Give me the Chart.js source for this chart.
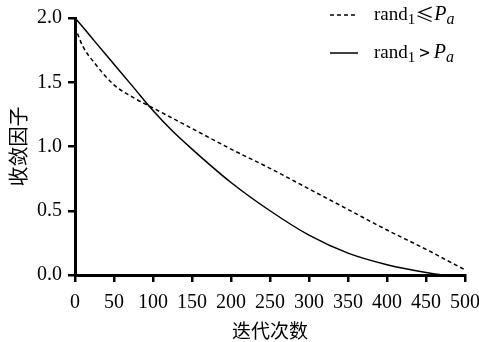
<!DOCTYPE html>
<html>
<head>
<meta charset="utf-8">
<script src="https://cdn.jsdelivr.net/npm/chart.js@4.4.0/dist/chart.umd.min.js"></script>
<style>
  html, body { margin: 0; padding: 0; background: #fff; }
  #wrap { width: 479px; height: 342px; position: relative; }
</style>
</head>
<body>
<div id="wrap"><canvas id="convChart"></canvas></div>
<script>
// Values
const iterations = [0, 10, 25, 50, 75, 100, 125, 150, 200, 250, 300, 350, 400, 450, 475, 500];
const dashedValues = [1.93, 1.78, 1.65, 1.48, 1.38, 1.30, 1.22, 1.14, 0.98, 0.83, 0.67, 0.51, 0.35, 0.20, 0.12, 0.04];
const solidValues = [2.00, 1.93, 1.82, 1.64, 1.46, 1.28, 1.12, 0.98, 0.72, 0.50, 0.31, 0.17, 0.08, 0.02, 0.00, 0.00];
const xTicks = [0, 50, 100, 150, 200, 250, 300, 350, 400, 450, 500];
const yTicks = [0.0, 0.5, 1.0, 1.5, 2.0];

const serif = "'Liberation Serif', 'DejaVu Serif', serif";
const cjk = "'Noto Sans CJK SC', sans-serif";

function toPoints(vals) {
  return iterations.map((x, i) => ({ x: x, y: vals[i] }));
}

// legend drawn by hand so the subscript and italic P_a come out right
const legendPlugin = {
  id: 'customLegend',
  afterDraw(chart) {
    const c = chart.ctx;
    const rows = [
      { dash: [4, 3], op: '\u2264', gap: 0, y: 15 },
      { dash: [], op: '>', gap: 4, y: 53 }
    ];
    c.save();
    rows.forEach(r => {
      c.strokeStyle = '#000';
      c.lineWidth = 1.5;
      c.setLineDash(r.dash);
      c.beginPath();
      c.moveTo(330, r.y);
      c.lineTo(358, r.y);
      c.stroke();
      c.setLineDash([]);
      c.fillStyle = '#000';
      c.textBaseline = 'middle';
      let x = 374;
      c.font = '19px ' + serif;
      c.fillText('rand', x, r.y);
      x += c.measureText('rand').width;
      c.font = '15px ' + serif;
      c.fillText('1', x, r.y + 5);
      x += c.measureText('1').width + r.gap;
      c.font = '19px ' + cjk;
      c.fillText(r.op, x, r.y);
      x += c.measureText(r.op).width + r.gap;
      c.font = 'italic 20px ' + serif;
      c.fillText('P', x, r.y);
      x += c.measureText('P').width;
      c.font = 'italic 16px ' + serif;
      c.fillText('a', x, r.y + 5);
    });
    c.restore();
  }
};

const ctx = document.getElementById('convChart').getContext('2d');
const convChart = new Chart(ctx, {
  type: 'line',
  data: {
    datasets: [{
      label: 'rand1<=Pa',
      data: toPoints(dashedValues),
      borderColor: '#000',
      borderWidth: 1.5,
      borderDash: [4, 3],
      pointRadius: 0,
      cubicInterpolationMode: 'monotone',
      fill: false
    }, {
      label: 'rand1>Pa',
      data: toPoints(solidValues),
      borderColor: '#000',
      borderWidth: 1.5,
      pointRadius: 0,
      cubicInterpolationMode: 'monotone',
      fill: false
    }]
  },
  options: {
    responsive: true,
    maintainAspectRatio: false,
    animation: false,
    layout: { padding: { top: 16, right: 14, left: 6, bottom: 0 } },
    plugins: {
      legend: { display: false },
      tooltip: { enabled: false }
    },
    scales: {
      x: {
        type: 'linear',
        min: 0,
        max: 500,
        afterBuildTicks: s => { s.ticks = xTicks.map(v => ({ value: v })); },
        afterFit: s => { s.height = 67; s.paddingRight = 8; },
        border: { display: true, color: '#000', width: 3 },
        grid: { display: true, drawOnChartArea: false, drawTicks: true, tickLength: 7, color: '#000', lineWidth: 2.5 },
        ticks: { color: '#000', font: { family: serif, size: 20 }, padding: 9, maxRotation: 0 },
        title: { display: true, text: '迭代次数', color: '#000', font: { family: cjk, size: 19 }, padding: { top: 4, bottom: 0 } }
      },
      y: {
        min: 0,
        max: 2,
        afterBuildTicks: s => { s.ticks = yTicks.map(v => ({ value: v })); },
        afterFit: s => { s.width = 69; },
        border: { display: true, color: '#000', width: 3 },
        grid: { display: true, drawOnChartArea: false, drawTicks: true, tickLength: 7, color: '#000', lineWidth: 2.5 },
        ticks: { color: '#000', font: { family: serif, size: 20 }, padding: 6, callback: v => v.toFixed(1) },
        title: { display: true, text: '收敛因子', color: '#000', font: { family: cjk, size: 20 }, padding: 0 }
      }
    }
  },
  plugins: [legendPlugin]
});
</script>
</body>
</html>
